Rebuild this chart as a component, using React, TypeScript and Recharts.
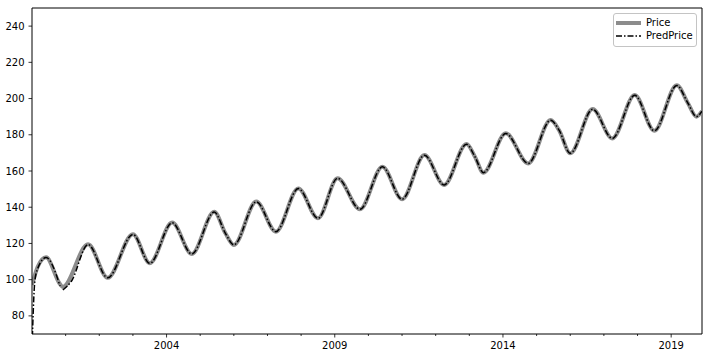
import React from 'react';
import { LineChart, Line, XAxis, YAxis, ReferenceLine } from 'recharts';

// month index 0 = Jan 2000
const priceMonths = [0, 2, 5, 10, 11, 20, 27, 36, 42, 50, 57, 65, 69, 72, 80, 87, 95, 102, 109, 117, 125, 132, 140, 147, 155, 158, 161, 169, 177, 185, 188, 192, 200, 207, 215, 222, 230, 234, 237, 239];
const priceValues = [97, 107, 112.4, 97.5, 96, 119.6, 101, 125.1, 109.1, 131.5, 114.2, 137.5, 125.6, 119.2, 143.1, 126.5, 150.4, 133.9, 156, 138.9, 162.4, 144.4, 168.8, 152.3, 174.9, 167.9, 159.1, 180.8, 164.2, 188.1, 182.6, 169.8, 194.2, 178, 201.9, 182.2, 207.4, 197.4, 190, 193];

// the prediction restarts just after the first trough (null = gap)
const predMonths = [0, 1, 2, 5, 10, 10.5, 11, 14, 20, 27, 36, 42, 50, 57, 65, 69, 72, 80, 87, 95, 102, 109, 117, 125, 132, 140, 147, 155, 158, 161, 169, 177, 185, 188, 192, 200, 207, 215, 222, 230, 234, 237, 239];
const predValues = [62, 99, 106, 112.2, 96.5, null, 94.3, 99, 119.4, 101, 125, 109, 131.4, 114.2, 137.3, 125.6, 119.2, 143, 126.5, 150.3, 133.9, 156, 138.9, 162.3, 144.4, 168.7, 152.3, 174.8, 167.9, 159.1, 180.7, 164.2, 188, 182.6, 169.8, 194.1, 178, 201.8, 182.2, 207.2, 197.4, 190, 193];

const yearTicks = [2001, 2002, 2003, 2004, 2005, 2006, 2007, 2008, 2009, 2010, 2011, 2012, 2013, 2014, 2015, 2016, 2017, 2018, 2019];
const majorYears = [2004, 2009, 2014, 2019];
const yTicks = [80, 100, 120, 140, 160, 180, 200, 220, 240];

const toYear = (m: number) => 2000 + m / 12;
const xDomain = [2000, toYear(239)];
const yDomain = [70, 250];

const priceData = priceMonths.map((m, i) => ({ t: toYear(m), v: priceValues[i] }));
const predData = predMonths.map((m, i) => ({ t: toYear(m), v: predValues[i] }));

const FONT = '"DejaVu Sans", sans-serif';

const XTick = ({ x, y, payload }: any) => {
  const major = majorYears.includes(payload.value);
  return (
    <g>
      <line x1={x} x2={x} y1={y} y2={y + (major ? 3.5 : 2)} stroke="#000" strokeWidth={0.8} />
      {major && (
        <text x={x} y={y + 14.5} textAnchor="middle" fontSize={10} fontFamily={FONT} fill="#000">
          {payload.value}
        </text>
      )}
    </g>
  );
};

const YTick = ({ x, y, payload }: any) => (
  <g>
    <line x1={x - 3.5} x2={x} y1={y} y2={y} stroke="#000" strokeWidth={0.8} />
    <text x={x - 7.5} y={y + 3.6} textAnchor="end" fontSize={10} fontFamily={FONT} fill="#000">
      {payload.value}
    </text>
  </g>
);

const LegendBox = () => (
  <div
    style={{
      position: 'absolute',
      left: 613,
      top: 13,
      width: 84,
      height: 34,
      border: '1px solid #c4c4c4',
      borderRadius: 3,
      background: 'rgba(255,255,255,0.8)',
      fontFamily: FONT,
      fontSize: 10,
      lineHeight: '12px',
      color: '#000',
      padding: '2px 2px 1px 2px',
      boxSizing: 'border-box',
    }}
  >
    <div style={{ display: 'flex', alignItems: 'center', height: 13 }}>
      <svg width={25} height={8} style={{ marginRight: 5, flex: 'none' }}>
        <line x1={0} x2={25} y1={4} y2={4} stroke="#8c8c8c" strokeWidth={4} />
      </svg>
      <span>Price</span>
    </div>
    <div style={{ display: 'flex', alignItems: 'center', height: 13 }}>
      <svg width={25} height={8} style={{ marginRight: 5, flex: 'none' }}>
        <line x1={0} x2={25} y1={4} y2={4} stroke="#000" strokeWidth={1.5} strokeDasharray="6 2 1.5 2" />
      </svg>
      <span>PredPrice</span>
    </div>
  </div>
);

const App = () => {
  return (
    <div style={{ position: 'absolute', left: 0, top: 0, width: 707, height: 355, background: '#fff' }}>
      <LineChart width={707} height={355} margin={{ top: 8, right: 5, left: 0, bottom: 0 }}>
        <XAxis
          type="number"
          dataKey="t"
          domain={xDomain}
          ticks={yearTicks}
          interval={0}
          allowDataOverflow
          height={21}
          tickSize={0}
          tickMargin={0}
          tickLine={false}
          tick={<XTick />}
          axisLine={{ stroke: '#000', strokeWidth: 1 }}
        />
        <YAxis
          type="number"
          domain={yDomain}
          ticks={yTicks}
          interval={0}
          allowDataOverflow
          width={32}
          tickSize={0}
          tickMargin={0}
          tickLine={false}
          tick={<YTick />}
          axisLine={{ stroke: '#000', strokeWidth: 1 }}
        />
        <ReferenceLine y={yDomain[1]} stroke="#000" strokeWidth={1} ifOverflow="visible" />
        <ReferenceLine x={xDomain[1]} stroke="#000" strokeWidth={1} ifOverflow="visible" />
        <Line
          data={priceData}
          dataKey="v"
          name="Price"
          type="monotone"
          stroke="#8c8c8c"
          strokeWidth={4}
          dot={false}
          activeDot={false}
          isAnimationActive={false}
        />
        <Line
          data={predData}
          dataKey="v"
          name="PredPrice"
          type="monotone"
          stroke="#000"
          strokeWidth={1.5}
          strokeDasharray="6 2 1.5 2"
          dot={false}
          activeDot={false}
          connectNulls={false}
          isAnimationActive={false}
        />
      </LineChart>
      <LegendBox />
    </div>
  );
};

export default App;
